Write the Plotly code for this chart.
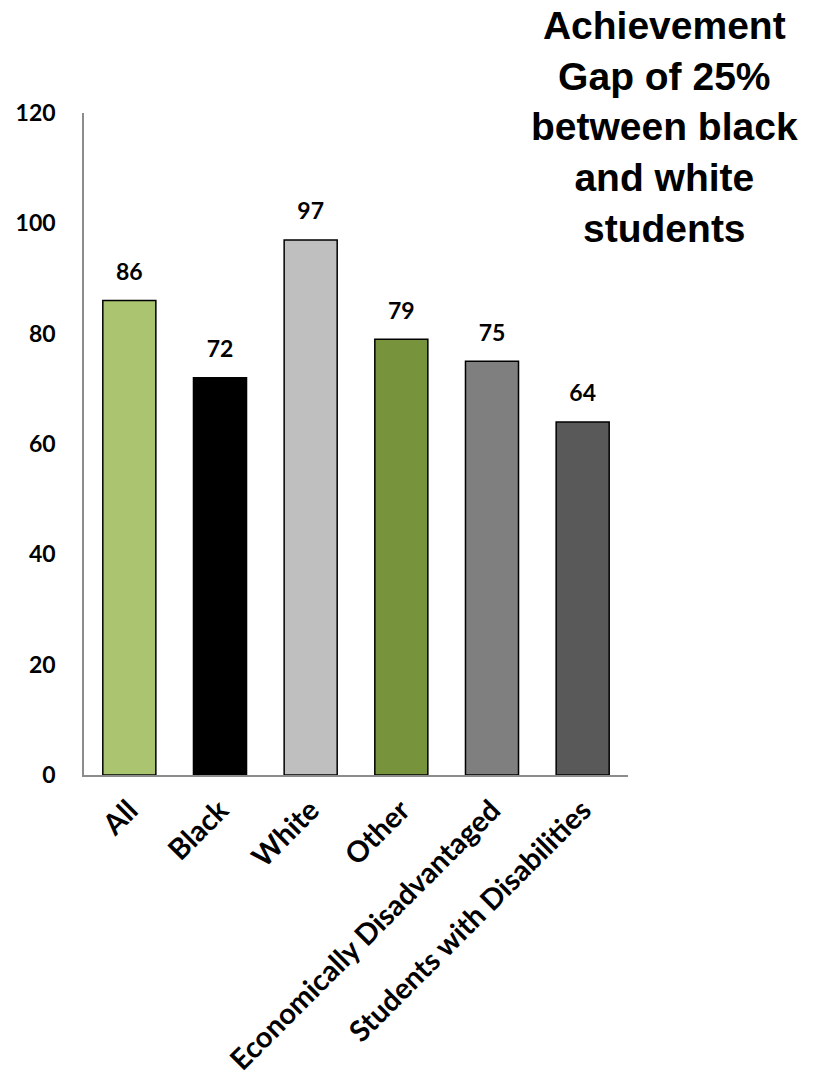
import plotly.graph_objects as go

# Student groups and their scores
groups = ["All", "Black", "White", "Other", "Economically Disadvantaged", "Students with Disabilities"]
scores = [86, 72, 97, 79, 75, 64]
bar_colors = ["#AAC470", "#000000", "#BFBFBF", "#77933C", "#7F7F7F", "#595959"]

y_ticks = [0, 20, 40, 60, 80, 100, 120]

label_font = dict(family="Lato, Open Sans, sans-serif", size=23, color="#000000", weight="bold")
category_font = dict(family="Lato, Open Sans, sans-serif", size=29, color="#000000", weight="bold")

fig = go.Figure()

fig.add_trace(
    go.Bar(
        x=groups,
        y=scores,
        marker=dict(color=bar_colors, line=dict(color="#000000", width=1.5)),
        hoverinfo="x+y",
    )
)

# Value labels sit above each bar; a transparent marker sets their offset
fig.add_trace(
    go.Scatter(
        x=groups,
        y=scores,
        mode="markers+text",
        marker=dict(size=22, color="rgba(0,0,0,0)"),
        text=[str(v) for v in scores],
        textposition="top center",
        textfont=label_font,
        cliponaxis=False,
        hoverinfo="skip",
    )
)

fig.update_layout(
    width=834,
    height=1085,
    margin=dict(l=84, r=206, t=113, b=310),
    paper_bgcolor="#FFFFFF",
    plot_bgcolor="#FFFFFF",
    bargap=0.415,
    showlegend=False,
)

fig.update_yaxes(
    range=[0, 120],
    tickvals=y_ticks,
    ticktext=[str(v) for v in y_ticks],
    showgrid=False,
    zeroline=False,
    showline=True,
    linecolor="#8C8C8C",
    linewidth=1.5,
    ticks="",
    tickfont=label_font,
    ticklabelstandoff=22,
    automargin=False,
)

fig.update_xaxes(
    showgrid=False,
    showline=True,
    linecolor="#8C8C8C",
    linewidth=1.5,
    ticks="",
    tickangle=-45,
    tickfont=category_font,
    ticklabelstandoff=5,
    automargin=False,
)

fig.add_annotation(
    text="Achievement<br>Gap of 25%<br>between black<br>and white<br>students",
    xref="paper",
    yref="paper",
    x=1.068,
    y=1.168,
    xanchor="center",
    yanchor="top",
    align="center",
    showarrow=False,
    font=dict(family="Liberation Sans, Arial, sans-serif", size=39, color="#000000", weight="bold"),
)

fig.write_html("out.html")
